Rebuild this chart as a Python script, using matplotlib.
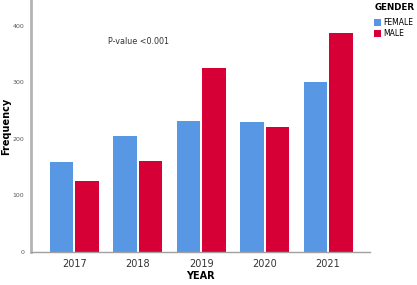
import matplotlib.pyplot as plt
import numpy as np

years = ["2017", "2018", "2019", "2020", "2021"]
female = [160, 206, 231, 230, 301]
male = [126, 161, 325, 221, 388]

fig = plt.figure(figsize=(4.17, 2.85), dpi=100)
ax = fig.add_axes([31/417, 33/285, 339/417, 252/285])

x = np.arange(len(years))
w = 0.37
ax.bar(x - w/2 - 0.015, female, w, color="#5797e4", label="FEMALE")
ax.bar(x + w/2 + 0.015, male, w, color="#d60036", label="MALE")

ax.set_xlim(-0.68, 4.66)
ax.set_ylim(0, 446)
ax.set_yticks([0, 100, 200, 300, 400])
ax.set_xticks(x)
ax.set_xticklabels(years)
ax.tick_params(axis="y", length=0, labelsize=4.5, colors="#555555", pad=5)
ax.tick_params(axis="x", length=0, labelsize=7, colors="#333333", pad=5)

for s in ["top", "right"]:
    ax.spines[s].set_visible(False)
ax.spines["left"].set_color("#b4b4b4")
ax.spines["left"].set_linewidth(2)
ax.spines["bottom"].set_color("#a0a0a0")
ax.spines["bottom"].set_linewidth(1)

ax.set_xlabel("YEAR", fontsize=7, fontweight="bold", va="center")
ax.set_ylabel("Frequency", fontsize=7, fontweight="bold", va="center")
ax.xaxis.set_label_coords(0.5, -0.097)
ax.yaxis.set_label_coords(-0.072, 0.5)

ax.text(0.53, 372, "P-value <0.001", fontsize=5.8, color="#333333", va="center")

leg = fig.legend(loc="upper left", bbox_to_anchor=(371/417, 1.0), title="GENDER",
                 frameon=False, fontsize=5.5, handlelength=0.9, handleheight=0.9,
                 handletextpad=0.3, labelspacing=0.3, borderaxespad=0.2,
                 borderpad=0.25)
leg.get_title().set_fontweight("bold")
leg.get_title().set_fontsize(6.3)
leg._legend_box.align = "left"
leg._legend_box.sep = 4

fig.savefig("out.png", dpi=100)
